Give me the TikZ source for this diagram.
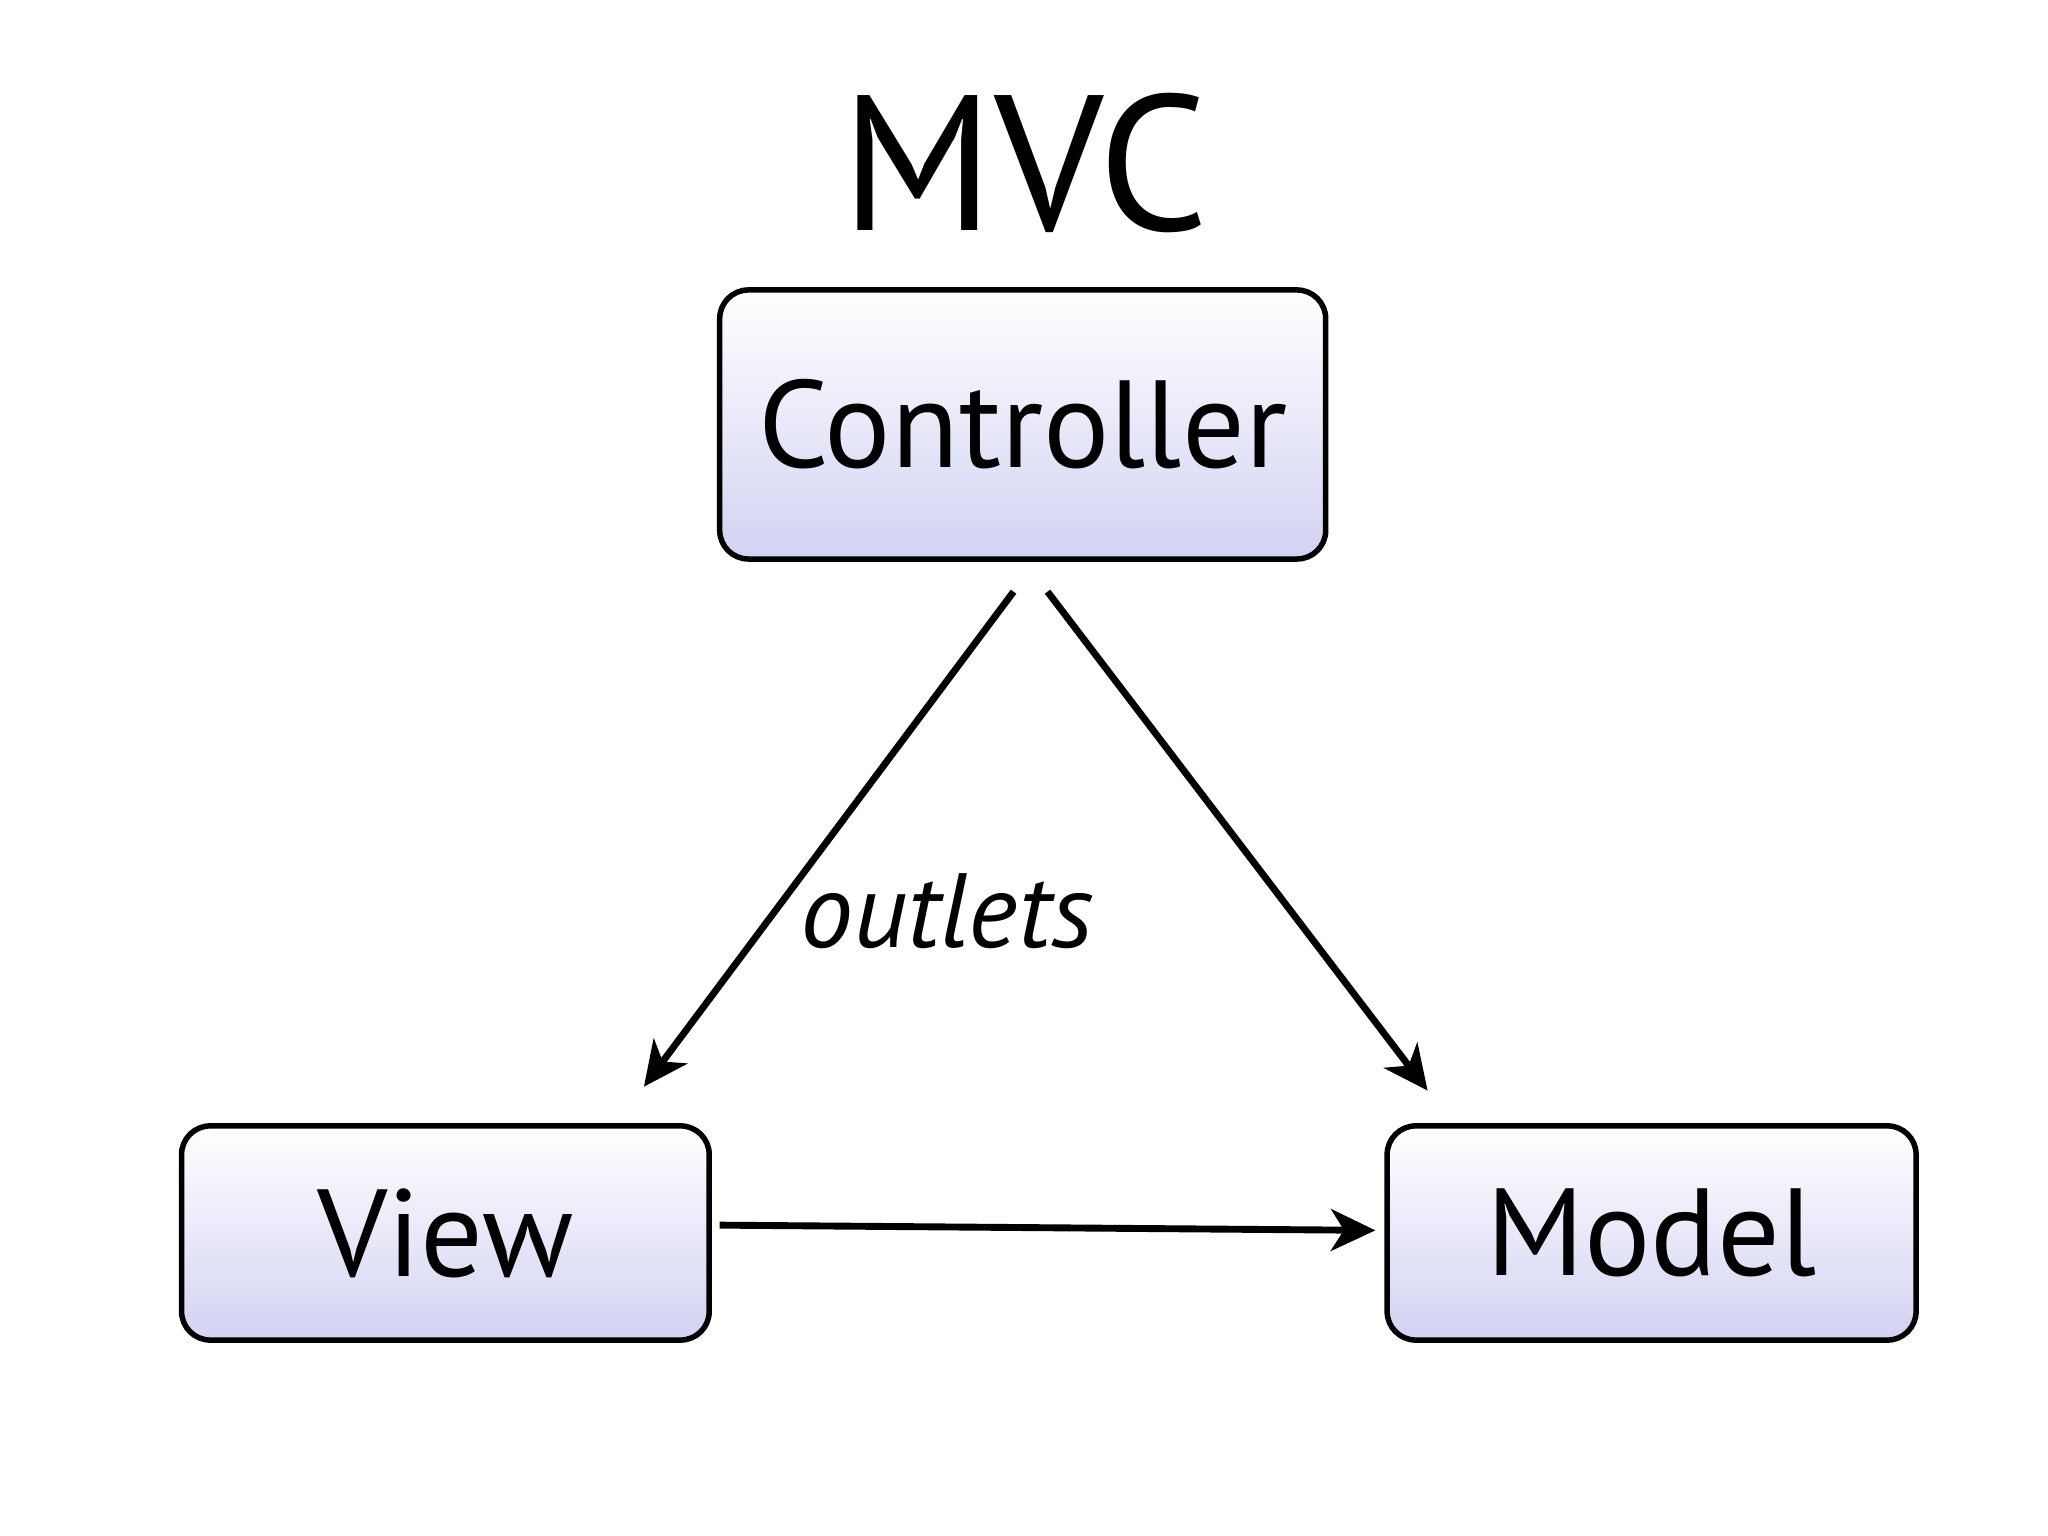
\documentclass[tikz,border=0pt]{standalone}
\usepackage{fontspec}
\setmainfont{PT Sans}
\usetikzlibrary{arrows.meta}
\definecolor{boxbot}{HTML}{D2D2F3}
\tikzset{
  box/.style={draw=black, line width=1.2pt, rounded corners=0.22cm, top color=white, bottom color=boxbot, inner sep=0pt},
  arr/.style={line width=1.5pt, -{Stealth[length=0.34cm,width=0.32cm,inset=0.1cm]}}
}
\begin{document}
\begin{tikzpicture}[x=1cm,y=-1cm]
\useasboundingbox (0,0) rectangle (15.68,11.76);
\node at (7.85,1.25) {\fontsize{42}{48}\selectfont MVC};
\node[box, minimum width=4.64cm, minimum height=2.06cm] (ctrl) at (7.83,3.25) {\fontsize{27}{32}\selectfont Controller};
\node[box, minimum width=4.04cm, minimum height=1.64cm] (view) at (3.41,9.44) {\fontsize{27}{32}\selectfont View};
\node[box, minimum width=4.05cm, minimum height=1.64cm] (model) at (12.645,9.44) {\fontsize{27}{32}\selectfont Model};
\node at (7.25,6.98) {\fontsize{23}{28}\selectfont\itshape outlets};
\coordinate (c1) at (7.76,4.53);
\coordinate (c2) at (8.02,4.53);
\coordinate (v1) at (4.93,8.32);
\coordinate (m1) at (10.93,8.35);
\coordinate (v2) at (5.51,9.38);
\coordinate (m2) at (10.53,9.42);
\draw[arr] (c1) -- (v1);
\draw[arr] (c2) -- (m1);
\draw[arr] (v2) -- (m2);
\end{tikzpicture}
\end{document}
